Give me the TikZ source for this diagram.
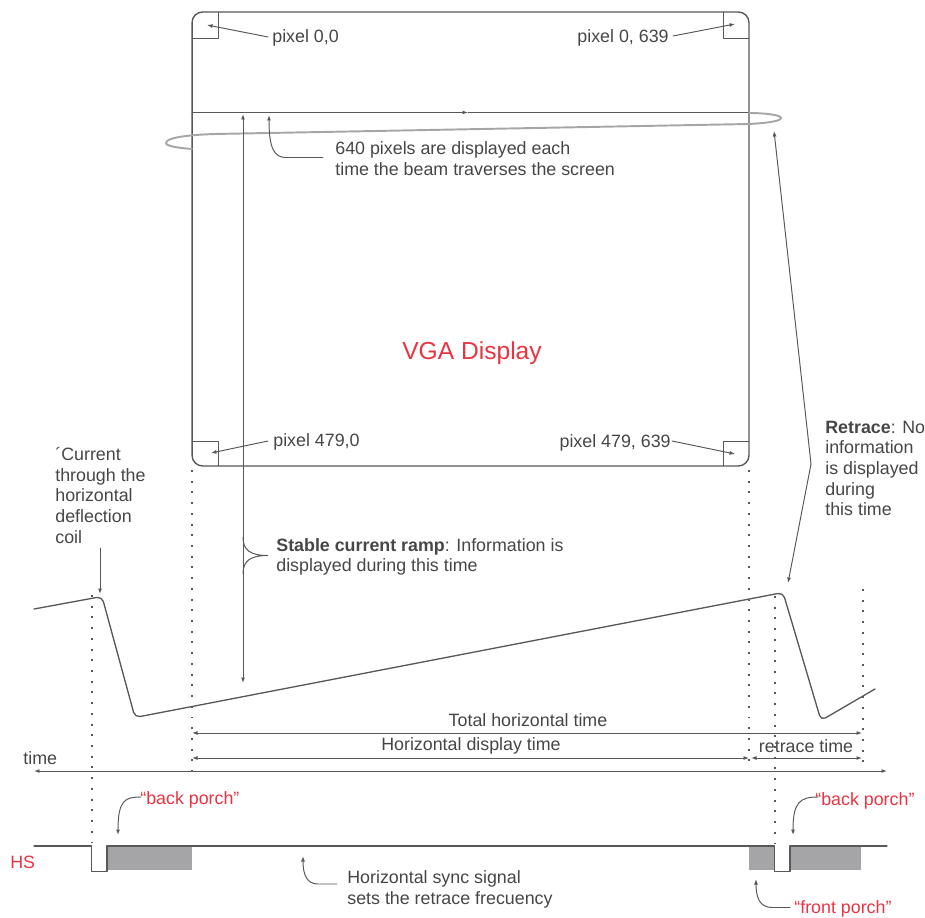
\documentclass[tikz,border=0pt]{standalone}
\usepackage{fontspec}
\setmainfont{Liberation Sans}
\usepackage{tikz}
\usetikzlibrary{arrows.meta, positioning, calc}
\definecolor{VGAgrey}{RGB}{88, 88, 90}
\definecolor{VGAtext}{RGB}{70, 70, 72}
\definecolor{VGAbeam}{RGB}{165, 166, 168}
\definecolor{VGAfill}{RGB}{165, 165, 168}
\definecolor{VGAred}{RGB}{232, 52, 66}
\tikzset{every path/.style={line cap=round, line join=round}, >={Latex[length=1.1mm, width=0.8mm]}}

\begin{document}
\begin{tikzpicture}[
    x=0.02cm,
    y=-0.02cm,
    every node/.style={inner sep=0pt, text=VGAtext, font=\fontsize{10.15}{11.7}\selectfont},
    textnote/.style={
        align=left,
        anchor=west
    },
    rednote/.style={
        text=VGAred
    },
    line/.style={
        draw=VGAgrey,
        line width=0.55pt
    },
    frame/.style={
        draw=VGAgrey,
        line width=0.8pt,
        rounded corners=6pt,
        minimum width=11.14cm,
        minimum height=9.08cm
    },
    arrow/.style={
        ->,
        draw=VGAgrey,
        line width=0.55pt
    },
    both/.style={
        <->,
        draw=VGAgrey,
        line width=0.55pt
    },
    marker/.style={
        draw=VGAgrey,
        line width=1.1pt,
        dash pattern=on 1.1pt off 5pt,
        line cap=butt
    },
    wave/.style={
        draw=VGAgrey,
        line width=0.75pt,
        rounded corners=3pt
    },
    porch/.style={
        fill=VGAfill,
        draw=none
    }
]

\useasboundingbox (0,0) rectangle (925,918);

\node[frame] (screen) at (470.5,239) {};

\draw[line] (192,38) -- (218,38) -- (218,12);
\draw[line] (723,12) -- (723,38) -- (749,38);
\draw[line] (192,441) -- (218,441) -- (218,466);
\draw[line] (723,466) -- (723,441) -- (749,441);

\node[textnote] (topleft) at (272,37.5) {pixel 0,0};
\node[textnote, anchor=east] (topright) at (669,37.5) {pixel 0, 639};
\node[textnote] (bottomleft) at (273,441.5) {pixel 479,0};
\node[textnote, anchor=east] (bottomright) at (671,442.5) {pixel 479, 639};

\coordinate (topleftdot) at (207,25);
\coordinate (toprightdot) at (735,24);
\coordinate (bottomleftdot) at (211,453);
\coordinate (bottomrightdot) at (735,454);

\draw[arrow] (topleft.west) ++(-4,-0.5) -- (topleftdot);
\draw[arrow] (topright.east) ++(4,-1.5) -- (toprightdot);
\draw[arrow] (bottomleft.west) ++(-5,-0.5) -- (bottomleftdot);
\draw[arrow] (bottomright.east) ++(1,-1.5) -- (bottomrightdot);

\coordinate (scanleft) at (192,112.5);
\coordinate (scanmid) at (468,112.5);
\coordinate (scanright) at (749,112.5);

\draw[arrow] (scanleft) -- (scanmid);
\draw[line] (scanmid) -- (scanright);

\draw[draw=VGAbeam, line width=1.1pt] (192,149) .. controls (178,148) and (166,146) .. (166,143) .. controls (166,138) and (185,135) .. (215,134) -- (749,124) .. controls (768,123) and (781,121) .. (781,118) .. controls (781,115) and (765,113) .. (749,113);

\node[textnote] (pixelnote) at (335,158.5) {640 pixels are displayed each\\time the beam traverses the screen};
\coordinate (pixeltip) at (269,115);
\draw[arrow] (pixelnote.west) ++(-12,-1) -- (286,157.5) .. controls (274,157.5) and (269,148) .. (pixeltip);

\node[font=\fontsize{14}{16}\selectfont, text=VGAred] (vga) at (472,353) {VGA Display};

\coordinate (ramptop) at (243,114);
\coordinate (rampbottom) at (243,683);
\draw[both] (ramptop) -- (rampbottom);

\node[textnote] (rampnote) at (276,557) {\textbf{Stable current ramp}: Information is\\displayed during this time};
\coordinate (bracetip) at (268,555.5);
\draw[line] (243,537) .. controls (243,550) and (250,555.5) .. (bracetip) .. controls (250,555.5) and (243,561) .. (243,574);

\node[textnote] (coilnote) at (55,495.5) {´Current\\through the\\horizontal\\deflection\\coil};
\coordinate (coilstart) at (100,548);
\coordinate (coiltip) at (100,594);
\draw[arrow] (coilstart) -- (coiltip);

\node[textnote] (retracenote) at (825,468.5) {\textbf{Retrace}: No\\information\\is displayed\\during\\this time};
\coordinate (retracestart) at (811,464);
\coordinate (beamtip) at (774,131);
\coordinate (wavetip) at (788,583);
\draw[arrow] (retracestart) -- (beamtip);
\draw[arrow] (retracestart) -- (wavetip);

\draw[wave] (34,609) -- (102,596.5) -- (135,717.5) -- (783,592.5) -- (821,720.5) -- (875,689);

\draw[marker] (192,470) -- (192,772);
\draw[marker] (749,470) -- (749,769);
\draw[marker] (92,595) -- (92,846);
\draw[marker] (775,596) -- (775,846);
\draw[marker] (863,589) -- (863,762);

\node (totaltime) at (528,720.5) {Total horizontal time};
\node (displaytime) at (471,746) {Horizontal display time};
\node (retracetime) at (806,746) {retrace time};
\node[anchor=west] (timelabel) at (23,758) {time};

\coordinate (totalleft) at (192,733);
\coordinate (totalright) at (862,733);
\coordinate (displayleft) at (192,758);
\coordinate (displayright) at (749,758);
\coordinate (retraceleft) at (751,758);
\coordinate (retraceright) at (862,758);
\coordinate (timeleft) at (34,771);
\coordinate (timeright) at (887,771);

\draw[both] (totalleft) -- (totalright);
\draw[both] (displayleft) -- (displayright);
\draw[both] (retraceleft) -- (retraceright);
\draw[both] (timeleft) -- (timeright);

\fill[porch] (107,846) rectangle (192,870);
\fill[porch] (748.5,846) rectangle (774.5,870);
\fill[porch] (790,846) rectangle (861,870);

\draw[wave, line width=0.6pt, rounded corners=0pt] (34,846) -- (91.5,846) -- (91.5,871.5) -- (107,871.5) -- (107,846) -- (774.5,846) -- (774.5,871.5) -- (790,871.5) -- (790,846) -- (887,846);

\node[rednote, anchor=west] (hslabel) at (10,862) {HS};

\node[rednote, anchor=west] (backleft) at (140,800) {“back porch”};
\node[rednote, anchor=west] (backright) at (815,801) {“back porch”};
\node[rednote, anchor=west] (frontporch) at (794,908.5) {“front porch”};

\coordinate (backlefttip) at (118,835);
\coordinate (backrighttip) at (793,835);
\coordinate (fronttip) at (756,879);

\draw[arrow] (backleft.west) ++(1,-3) .. controls (125,797) and (118,800) .. (backlefttip);
\draw[arrow] (backright.west) ++(3,-4) .. controls (800,797) and (793,802) .. (backrighttip);
\draw[arrow] (frontporch.west) ++(-4,-1) -- (772,907.5) .. controls (760,907.5) and (756,898) .. (fronttip);

\node[textnote] (syncnote) at (347,889.5) {Horizontal sync signal\\sets the retrace frecuency};
\coordinate (synctip) at (303,856);
\draw[arrow] (syncnote.west) ++(-10,-5.5) -- (318,884) .. controls (307,884) and (303,875) .. (synctip);

\end{tikzpicture}
\end{document}
